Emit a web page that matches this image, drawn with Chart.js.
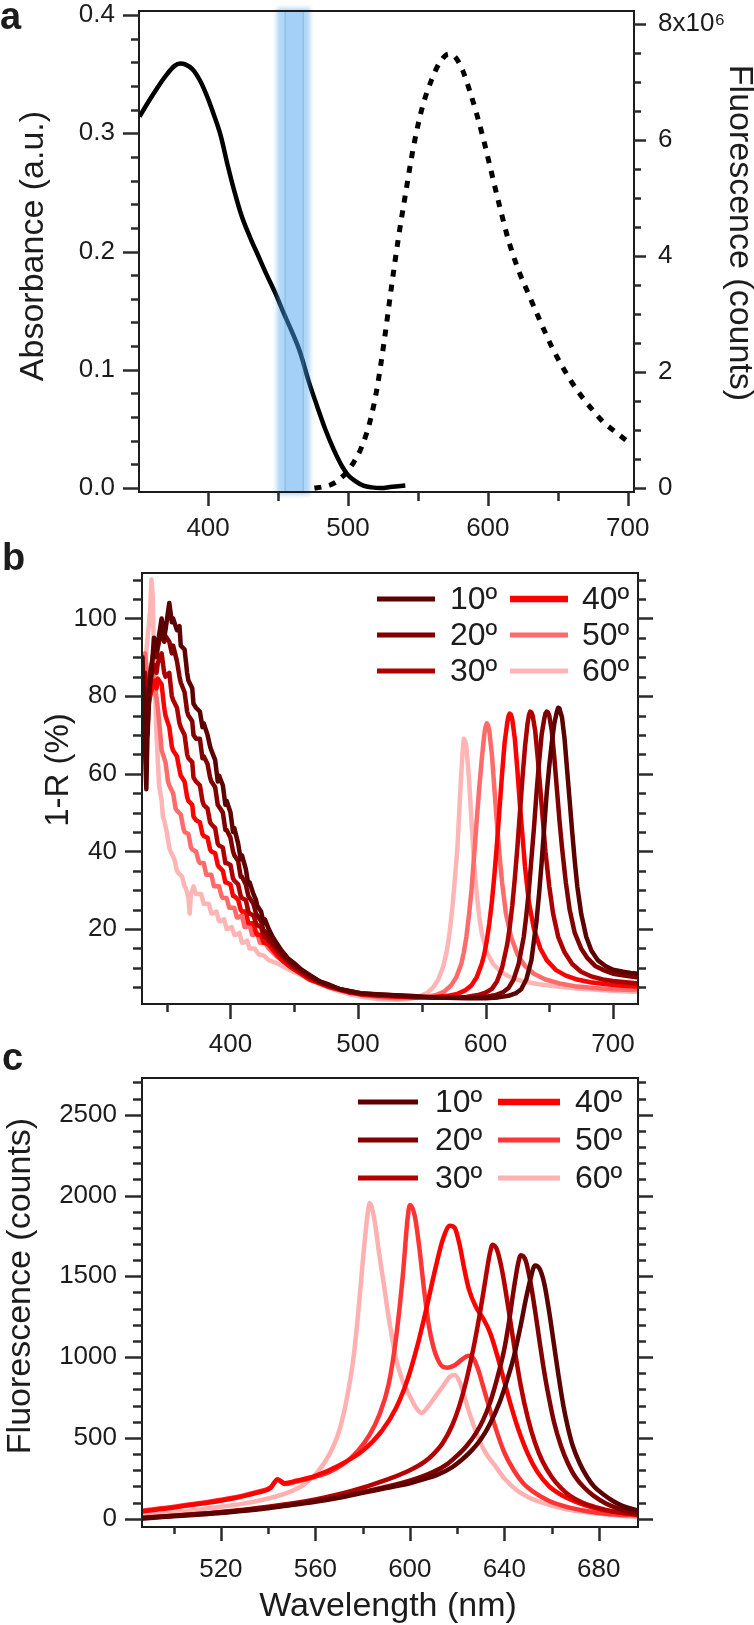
<!DOCTYPE html>
<html>
<head>
<meta charset="utf-8">
<script src="https://cdn.jsdelivr.net/npm/chart.js@4.4.1/dist/chart.umd.min.js"></script>
<style>
  html, body { margin: 0; padding: 0; background: #fff; }
  #page { position: relative; width: 754px; height: 1625px; overflow: hidden; }
  canvas { position: absolute; left: 0; top: 0; }
</style>
</head>
<body>
<div id="page">
  <canvas id="panelA" width="754" height="1625"></canvas>
  <canvas id="panelB" width="754" height="1625"></canvas>
  <canvas id="panelC" width="754" height="1625"></canvas>
</div>
<script>
// ---- panel a : absorbance + fluorescence of the dye ----
const absorbance = [[351,0.314],[357,0.326],[364,0.339],[370,0.349],[376,0.357],[380,0.359],[384,0.358],[389,0.354],[394,0.345],[399,0.332],[404,0.316],[409,0.298],[414,0.273],[419,0.25],[424,0.23],[430,0.212],[436,0.196],[442,0.18],[448,0.165],[454,0.148],[460,0.132],[466,0.114],[472,0.09],[478,0.069],[484,0.049],[490,0.032],[495,0.02],[500,0.011],[505,0.006],[511,0.002],[517,0.0005],[524,0],[530,0.0008],[536,0.0015],[541,0.002]];
const dyeEmission = [[476,0],[482,0.02e6],[488,0.06e6],[494,0.15e6],[500,0.3e6],[505,0.48e6],[510,0.72e6],[516,1.17e6],[521,1.75e6],[526,2.55e6],[531,3.45e6],[536,4.3e6],[541,5.05e6],[547,5.9e6],[553,6.55e6],[560,7.05e6],[566,7.35e6],[572,7.48e6],[577,7.42e6],[582,7.2e6],[587,6.85e6],[592,6.45e6],[597,6.0e6],[602,5.5e6],[608,4.9e6],[615,4.25e6],[622,3.75e6],[629,3.35e6],[637,2.9e6],[646,2.42e6],[655,2.02e6],[664,1.68e6],[673,1.4e6],[682,1.15e6],[691,0.97e6],[700,0.8e6]];
const excitationBand = [449, 473];
const excitationCore = [455, 468];
const absTicks = [0, 0.1, 0.2, 0.3, 0.4];
const absTickLabels = ['0.0', '0.1', '0.2', '0.3', '0.4'];
const emisTicks = [0, 2e6, 4e6, 6e6, 8e6];
const emisTickLabels = ['0', '2', '4', '6', '8x10\u2076'];
const waveTicksA = [400, 500, 600, 700];

// ---- panel b : 1-R for each angle ----
const angleLabels = ['10º', '20º', '30º', '40º', '50º', '60º'];
const refl10 = [[329,85],[330,72],[331,90],[332,78],[333,66],[334,56],[335,72],[336,80],[338,86],[340,95],[342,92],[343,93.5],[346,100],[348,95],[349,97],[352,104],[354,99],[355,100],[358,97],[360,98],[361,93],[364,92],[366,86],[367,84],[370,82],[371,78],[373,77],[376,76],[378,72],[379,73],[382,70],[384,67],[385,66],[388,63.5],[390,58],[391,59.5],[394,57],[396,52],[397,53],[400,50],[402,45],[403,46],[406,42],[408,38],[409,39],[412,35.5],[414,31.5],[415,32],[418,29],[420,27.5],[421,26],[424,24.5],[426,21.5],[427,22.5],[430,20],[433,18],[436,16.5],[440,14.5],[445,12.5],[450,11.2],[456,9.5],[462,8.2],[470,6.5],[478,5.6],[486,4.5],[494,4],[502,3.5],[512,3.2],[525,3],[540,2.8],[555,2.5],[570,2.3],[585,2.2],[600,2.2],[610,2.4],[618,2.8],[624,3.5],[628,4.5],[632,7],[636,12],[640,22],[642,29],[644,37],[646,46],[648,55],[650,62],[652,68],[654,73],[656,76],[657,77],[658,76.8],[660,74.5],[662,69],[664,61],[666,53],[668,45],[670,37.5],[672,31],[675,24],[679,18],[683,14.5],[688,12],[694,10.5],[700,9.5],[708,9],[714,8.7],[720,8.5]];
const refl20 = [[329,80],[330,88],[331,75],[333,82],[335,70],[337,86],[340,92],[342,90],[343,92.5],[346,97],[348,94],[349,95.5],[352,94],[354,91],[355,93],[358,89],[360,85],[361,83.5],[364,81],[366,76],[367,75],[370,73.5],[371,70],[373,69],[376,69],[378,64],[379,64.5],[382,62.5],[384,59],[385,58],[388,56.5],[390,52],[391,51.5],[394,50],[396,45.5],[397,45.5],[400,43.5],[402,40],[403,39],[406,37.5],[408,33.5],[409,33.5],[412,31.5],[414,28.5],[415,28],[418,26.5],[420,24],[421,23.5],[424,22],[426,19.5],[427,19.5],[430,18],[436,15.5],[442,13],[448,11],[455,9.5],[462,8],[470,6.5],[478,5.5],[486,4.5],[494,4],[502,3.5],[515,3.2],[530,2.9],[545,2.6],[560,2.4],[575,2.3],[590,2.3],[600,2.5],[608,3],[614,3.8],[618,4.8],[622,7],[626,11],[630,18],[632,23.5],[634,30],[636,38],[638,46],[640,55],[642,63],[644,70],[646,74],[647,75.5],[648,76],[649,75.8],[650,75],[652,71],[654,64],[656,56],[658,48],[660,41],[663,32],[666,25],[670,19],[675,15],[680,12.5],[686,10.5],[692,9.5],[700,8.5],[710,8],[720,7.5]];
const refl30 = [[329,72],[331,80],[333,86],[335,78],[337,84],[340,88],[342,86],[343,88.5],[346,91],[348,86],[349,85],[352,86],[354,80],[355,79],[358,77],[360,73],[361,72],[364,70],[366,65],[367,64],[370,63],[371,59],[373,58],[376,57],[378,53],[379,52],[382,51],[384,47.5],[385,47],[388,46],[390,42],[391,41.5],[394,41],[396,37],[397,37],[400,36.5],[402,33],[403,32.5],[406,31.5],[408,28.5],[409,28],[412,27.5],[414,24.5],[415,24],[418,23.5],[420,21.5],[421,21],[424,20.5],[426,18],[427,18],[430,17],[436,14.5],[442,12.5],[448,10.5],[455,9],[462,7.5],[470,6.2],[478,5.2],[486,4.5],[494,3.8],[502,3.3],[515,3],[530,2.7],[545,2.5],[560,2.3],[575,2.3],[585,2.5],[594,3],[600,3.6],[605,4.6],[609,6.5],[613,10],[617,16],[619,20.5],[621,26],[623,33],[625,41],[627,50],[629,59],[631,67],[633,73],[634,75],[635,76],[636,75.8],[637,75],[639,71],[641,64],[643,56],[645,48],[647,40],[650,31],[653,24],[657,18],[662,14],[668,11],[675,9],[683,7.8],[692,7],[700,6.6],[710,6.3],[720,6]];
const refl40 = [[329,68],[331,75],[333,82],[335,76],[337,80],[340,84],[342,82],[343,84.5],[346,83],[348,77],[349,75],[352,72],[354,67],[355,66],[358,64.5],[360,61],[361,59.5],[364,58],[366,54],[367,53],[370,52],[371,49],[373,48],[376,47.5],[378,44.5],[379,44],[382,43.5],[384,40.5],[385,40],[388,39.5],[390,36.5],[391,36],[394,35],[396,32],[397,32],[400,31.5],[402,28.5],[403,28.5],[406,27.5],[408,25],[409,24.5],[412,24.5],[414,21.5],[415,21.5],[418,21.5],[420,19],[421,18.5],[424,18.5],[426,16.5],[427,16.5],[430,16],[436,13.5],[442,11.5],[448,10],[455,8.5],[462,7],[470,6],[478,5],[486,4.3],[494,3.6],[502,3.2],[515,2.8],[530,2.6],[545,2.4],[560,2.5],[570,2.8],[578,3.3],[584,4.2],[589,5.5],[593,7.5],[597,11],[599,13.5],[601,17],[603,21.5],[605,27],[607,34],[609,42],[611,51],[613,60],[615,68],[617,73],[618,74.8],[619,75.5],[620,75.2],[621,74],[623,69],[625,61],[627,52],[629,44],[631,36],[634,27],[638,20],[643,15],[648,12],[655,9.5],[663,8],[672,7],[682,6.3],[695,5.8],[708,5.4],[720,5.2]];
const refl50 = [[329,75],[331,85],[333,91],[335,85],[337,80],[339,86],[341,82],[343,77],[345,70],[346,66],[349,63],[351,58],[352,57],[355,55],[357,51],[358,50.5],[361,49.5],[363,46],[364,45],[367,44.5],[369,41],[370,40.5],[373,40],[375,37.5],[376,37],[379,37],[381,34],[382,34],[385,34],[387,31],[388,31],[391,31],[393,28.5],[394,28],[397,28],[399,25.5],[400,25.5],[403,25.5],[405,23],[406,23],[409,23.5],[411,20.5],[412,20.5],[415,21],[417,18.5],[418,18.5],[421,19],[423,16.5],[424,16.5],[427,16.5],[430,15],[436,13],[442,11.5],[448,10],[455,8.6],[462,7.4],[470,6.2],[478,5.2],[486,4.4],[494,3.7],[502,3.1],[515,2.5],[530,2.2],[545,2.3],[555,2.6],[562,3.1],[568,4],[573,5.5],[577,7.5],[581,11],[583,14],[585,18],[587,23.5],[589,30],[591,38.5],[593,47.5],[595,56],[597,63.5],[599,70],[600,72],[601,73],[602,72.5],[603,71],[605,65],[607,56],[609,47],[611,39],[613,32],[616,24],[620,18],[625,13.5],[631,10.5],[638,8.5],[647,7],[658,6],[670,5.3],[685,4.8],[700,4.5],[710,4.4],[720,4.3]];
const refl60 = [[329,70],[331,80],[333,88],[335,95],[337,102],[338,110],[339,106],[340,90],[342,70],[344,57],[346,53],[347,49],[348,48],[350,45],[352,41],[353,40],[356,38],[358,35],[359,34.5],[362,33.5],[364,31],[365,30.5],[367,28],[368,24],[369,29],[371,31],[373,29],[374,29],[377,29],[379,26.5],[380,26.5],[383,26.5],[385,24],[386,24],[389,24.5],[391,22],[392,22],[395,22.5],[397,20],[398,20],[401,20.5],[403,18.5],[404,18.5],[407,19],[409,16.5],[410,16.5],[413,17],[415,15],[416,15],[419,15],[422,13.5],[426,13.2],[430,12],[436,11.3],[442,10.2],[448,9.2],[455,8.2],[462,7],[470,5.8],[478,4.8],[486,3.9],[494,3.2],[502,2.6],[515,2],[530,1.8],[540,2],[548,2.6],[554,3.5],[559,5],[563,7],[567,10.5],[570,15],[572,19.5],[574,25.5],[576,33],[578,41],[580,54],[581,60],[582,65.5],[583,69],[584,68.5],[585,67],[587,59],[589,48],[591,37],[593,29.5],[595,23.5],[597,19],[601,14],[606,11],[612,9],[620,7.5],[630,6.5],[642,5.8],[656,5.2],[672,4.7],[690,4.3],[705,4],[720,3.8]];
const reflTicks = [20, 40, 60, 80, 100];
const waveTicksB = [400, 500, 600, 700];

// ---- panel c : fluorescence for each angle ----
const fluo10 = [[486,0],[490,5],[500,15],[510,25],[520,35],[530,50],[540,65],[550,85],[560,105],[570,130],[580,160],[590,190],[600,220],[606,245],[612,275],[618,320],[622,365],[626,420],[630,490],[634,590],[638,720],[641,850],[644,1000],[647,1200],[649,1350],[651,1480],[653,1567],[655,1545],[657,1450],[659,1280],[661,1080],[663,880],[665,700],[667,560],[669,450],[672,340],[675,260],[678,200],[682,150],[686,110],[690,80],[693,65],[697,50]];
const fluo20 = [[486,5],[500,18],[520,40],[540,70],[560,110],[580,165],[600,235],[610,290],[616,340],[620,390],[624,450],[628,530],[631,610],[634,720],[637,870],[640,1050],[642,1220],[644,1420],[646,1590],[647,1631],[649,1600],[651,1470],[653,1290],[655,1090],[657,900],[659,740],[661,600],[664,450],[667,340],[670,260],[674,190],[678,140],[683,95],[688,65],[692,45],[697,30]];
const fluo30 = [[486,5],[500,18],[520,42],[540,75],[560,120],[575,170],[590,240],[600,300],[606,350],[610,400],[614,470],[618,580],[621,700],[624,860],[627,1060],[630,1300],[632,1480],[634,1650],[635,1695],[637,1660],[639,1540],[641,1370],[643,1180],[645,990],[647,820],[650,620],[653,470],[656,360],[660,260],[664,190],[668,140],[673,100],[679,70],[686,45],[697,25]];
const fluo40 = [[486,45],[495,60],[505,80],[515,100],[525,125],[535,160],[541,190],[544,245],[547,220],[552,235],[560,265],[570,330],[580,420],[588,540],[594,680],[599,860],[603,1060],[607,1300],[611,1560],[614,1730],[617,1813],[619,1800],[621,1700],[623,1550],[625,1420],[628,1310],[631,1240],[634,1150],[637,1010],[640,850],[643,690],[646,550],[650,400],[654,290],[659,200],[665,140],[672,95],[680,60],[688,40],[697,25]];
const fluo50 = [[486,50],[495,65],[505,85],[515,105],[525,130],[535,165],[541,195],[544,240],[547,215],[552,230],[560,260],[566,290],[572,340],[578,420],[583,520],[587,640],[591,830],[594,1100],[597,1500],[599,1850],[600,1942],[602,1880],[604,1680],[606,1420],[608,1200],[610,1060],[612,980],[614,940],[616,935],[619,950],[622,985],[625,1008],[627,990],[629,920],[631,820],[634,670],[637,530],[640,410],[644,300],[648,220],[653,160],[659,110],[666,75],[674,50],[684,30],[697,20]];
const fluo60 = [[486,20],[500,40],[515,65],[530,95],[540,125],[548,160],[555,210],[561,290],[566,400],[570,540],[573,720],[576,980],[578,1250],[580,1580],[582,1870],[583,1953],[585,1850],[587,1640],[589,1450],[591,1250],[594,1000],[597,850],[600,760],[603,680],[605,655],[608,700],[611,760],[614,820],[617,880],[619,890],[621,850],[623,760],[626,620],[629,500],[632,410],[636,330],[640,250],[645,180],[650,135],[656,100],[663,70],[670,50],[680,32],[688,20],[697,12]];
const fluoTicks = [0, 500, 1000, 1500, 2000, 2500];
const waveTicksC = [520, 560, 600, 640, 680];

const reflColors = ['#5c0000', '#800000', '#ad0000', '#ff0000', '#ff6a6a', '#ffb5b5'];
const fluoColors = ['#5c0000', '#800000', '#b40000', '#ff0000', '#ff3535', '#ffb0b0'];

const FAMILY = "'Liberation Sans', Arial, Helvetica, sans-serif";
const INK = '#1c1c1c';

function steps(from, to, step, skip) {
  const out = [];
  for (let v = from; v <= to + step / 1e3; v += step) {
    const r = +v.toFixed(6);
    if (!skip || !skip.some(s => Math.abs(s - r) < step / 1e3)) out.push(r);
  }
  return out;
}
const pts = arr => arr.map(p => ({ x: p[0], y: p[1] }));

// frame, tick marks, titles, legend and the excitation band
const panelDecor = {
  id: 'panelDecor',
  afterDatasetsDraw(chart, args, o) {
    const ctx = chart.ctx, a = chart.chartArea;
    ctx.save();
    if (o.band) {
      const xs = chart.scales.x;
      const b0 = xs.getPixelForValue(o.band[0]), b1 = xs.getPixelForValue(o.band[1]);
      const c0 = xs.getPixelForValue(o.core[0]), c1 = xs.getPixelForValue(o.core[1]);
      ctx.filter = 'blur(2px)';
      ctx.fillStyle = 'rgba(70,160,235,0.42)';
      ctx.fillRect(b0, a.top - 3, b1 - b0, a.bottom - a.top + 6);
      ctx.filter = 'none';
      ctx.fillStyle = 'rgba(70,160,235,0.12)';
      ctx.fillRect(c0, a.top, c1 - c0, a.bottom - a.top);
      ctx.strokeStyle = 'rgba(60,130,200,0.35)';
      ctx.lineWidth = 1;
      ctx.strokeRect(c0, a.top, c1 - c0, a.bottom - a.top);
    }
    ctx.strokeStyle = INK;
    ctx.lineWidth = 2;
    ctx.strokeRect(a.left, a.top, a.right - a.left, a.bottom - a.top);

    ctx.strokeStyle = '#2b2b2b';
    ctx.lineWidth = 2.5;
    o.marks.forEach(m => {
      const s = chart.scales[m.scale];
      [[m.major, m.majorLen], [m.minor, m.minorLen]].forEach(([vals, len]) => {
        vals.forEach(v => {
          const p = Math.round(s.getPixelForValue(v)) + 0.5;
          ctx.beginPath();
          if (m.side === 'bottom') { ctx.moveTo(p, a.bottom); ctx.lineTo(p, a.bottom + len); }
          else if (m.side === 'left') { ctx.moveTo(a.left, p); ctx.lineTo(a.left - len, p); }
          else { ctx.moveTo(a.right, p); ctx.lineTo(a.right + len, p); }
          ctx.stroke();
        });
      });
    });

    ctx.fillStyle = INK;
    ctx.textAlign = 'center';
    ctx.textBaseline = 'middle';
    o.titles.forEach(t => {
      ctx.save();
      ctx.translate(t.x, t.y);
      ctx.rotate(t.rot || 0);
      ctx.font = t.size + 'px ' + FAMILY;
      ctx.fillText(t.text, 0, 0);
      ctx.restore();
    });
    ctx.font = 'bold 38px ' + FAMILY;
    ctx.textAlign = 'left';
    ctx.textBaseline = 'alphabetic';
    ctx.fillText(o.letter.text, o.letter.x, o.letter.y);

    if (o.legend) {
      const L = o.legend;
      ctx.font = '32px ' + FAMILY;
      ctx.textBaseline = 'middle';
      chart.data.datasets.forEach((ds, i) => {
        const col = L.cols[Math.floor(i / L.rows.length)];
        const y = L.rows[i % L.rows.length];
        ctx.strokeStyle = ds.borderColor;
        ctx.lineWidth = i === 3 ? 6.5 : 5;
        ctx.beginPath();
        ctx.moveTo(col.from, y);
        ctx.lineTo(col.to, y);
        ctx.stroke();
        ctx.fillStyle = INK;
        ctx.fillText(ds.label, col.text, y + 1);
      });
    }
    ctx.restore();
  }
};

function fixedSize(size, horizontal) {
  return scale => {
    if (horizontal) scale.height = size; else scale.width = size;
    scale.paddingTop = 0; scale.paddingBottom = 0;
    scale.paddingLeft = 0; scale.paddingRight = 0;
  };
}
function tickFont() { return { family: FAMILY, size: 26 }; }

function waveAxis(min, max, ticks, pad, height) {
  return {
    type: 'linear', position: 'bottom', min: min, max: max,
    grid: { display: false, drawTicks: false }, border: { display: false },
    afterBuildTicks: s => { s.ticks = ticks.map(v => ({ value: v })); },
    afterFit: fixedSize(height, true),
    ticks: { autoSkip: false, maxRotation: 0, padding: pad, color: INK, font: tickFont(),
             callback: v => String(v) }
  };
}
function valueAxis(pos, min, max, ticks, labels, pad, width) {
  return {
    type: 'linear', position: pos, min: min, max: max,
    grid: { display: false, drawTicks: false }, border: { display: false },
    afterBuildTicks: s => { s.ticks = ticks.map(v => ({ value: v })); },
    afterFit: fixedSize(width, false),
    ticks: { autoSkip: false, padding: pad, color: INK, font: tickFont(),
             callback: v => labels[ticks.findIndex(t => Math.abs(t - v) < 1e-9)] }
  };
}
function common(padding, decor) {
  return {
    responsive: false, animation: false, events: [],
    layout: { padding: padding },
    plugins: { legend: { display: false }, tooltip: { enabled: false }, panelDecor: decor },
    elements: { point: { radius: 0 }, line: { borderCapStyle: 'butt', borderJoinStyle: 'round' } }
  };
}
function lineSet(label, data, color, width, extra) {
  return Object.assign({ label: label, data: pts(data), borderColor: color, borderWidth: width,
    fill: false, cubicInterpolationMode: 'monotone', clip: 1, yAxisID: 'y' }, extra || {});
}

// ---------- panel a ----------
const optsA = common({ top: 11, left: 0, right: 0, bottom: 0 }, {
  band: excitationBand, core: excitationCore,
  marks: [
    { scale: 'x', side: 'bottom', major: waveTicksA, majorLen: 14, minor: [450, 550, 650], minorLen: 9 },
    { scale: 'y', side: 'left', major: absTicks, majorLen: 16, minor: steps(0, 0.4, 0.02, absTicks), minorLen: 8 },
    { scale: 'y2', side: 'right', major: emisTicks, majorLen: 12, minor: steps(0, 8e6, 0.5e6, emisTicks), minorLen: 7 }
  ],
  titles: [
    { text: 'Absorbance (a.u.)', x: 34, y: 246, rot: -Math.PI / 2, size: 34 },
    { text: 'Fluorescence (counts)', x: 739, y: 233, rot: Math.PI / 2, size: 34 }
  ],
  letter: { text: 'a', x: 0, y: 29 }
});
optsA.scales = {
  x: waveAxis(350.6, 704.5, waveTicksA, 21, 1625 - 492),
  y: valueAxis('left', -0.0034, 0.4034, absTicks, absTickLabels, 24, 139),
  y2: valueAxis('right', -0.069e6, 8.224e6, emisTicks, emisTickLabels, 24, 120)
};
new Chart(document.getElementById('panelA'), {
  type: 'line',
  data: { datasets: [
    lineSet('Absorbance', absorbance, '#000000', 4.5),
    lineSet('Fluorescence', dyeEmission, '#000000', 5, { yAxisID: 'y2', borderDash: [7, 8] })
  ] },
  options: optsA,
  plugins: [panelDecor]
});

// ---------- panel b ----------
const reflSeries = [refl10, refl20, refl30, refl40, refl50, refl60];
const optsB = common({ top: 573, left: 0, right: 116, bottom: 0 }, {
  marks: [
    { scale: 'x', side: 'bottom', major: waveTicksB, majorLen: 15, minor: [350, 450, 550, 650], minorLen: 8 },
    { scale: 'y', side: 'left', major: reflTicks, majorLen: 17, minor: steps(5, 110, 5, reflTicks), minorLen: 9 },
    { scale: 'y', side: 'right', major: reflTicks, majorLen: 15, minor: steps(5, 110, 5, reflTicks), minorLen: 8 }
  ],
  titles: [{ text: '1-R (%)', x: 59, y: 770, rot: -Math.PI / 2, size: 33 }],
  letter: { text: 'b', x: 2, y: 570 },
  legend: { rows: [599, 635, 671], cols: [{ from: 377, to: 435, text: 450 }, { from: 510, to: 568, text: 582 }] }
});
optsB.scales = {
  x: waveAxis(330.6, 719.6, waveTicksB, 25, 1625 - 1004),
  y: valueAxis('left', 0.7, 111.7, reflTicks, reflTicks.map(String), 25, 142)
};
new Chart(document.getElementById('panelB'), {
  type: 'line',
  data: { datasets: reflSeries.map((s, i) => lineSet(angleLabels[i], s, reflColors[i], 4.5,
    { cubicInterpolationMode: 'default', tension: 0 })) },
  options: optsB,
  plugins: [panelDecor]
});

// ---------- panel c ----------
const fluoSeries = [fluo10, fluo20, fluo30, fluo40, fluo50, fluo60];
const optsC = common({ top: 1078, left: 0, right: 116, bottom: 0 }, {
  marks: [
    { scale: 'x', side: 'bottom', major: waveTicksC, majorLen: 14, minor: [500, 540, 580, 620, 660], minorLen: 7 },
    { scale: 'y', side: 'left', major: fluoTicks, majorLen: 17, minor: steps(0, 2700, 100, fluoTicks), minorLen: 9 },
    { scale: 'y', side: 'right', major: fluoTicks, majorLen: 15, minor: steps(0, 2700, 100, fluoTicks), minorLen: 8 }
  ],
  titles: [
    { text: 'Fluorescence (counts)', x: 21, y: 1286, rot: -Math.PI / 2, size: 34 },
    { text: 'Wavelength (nm)', x: 388, y: 1607, rot: 0, size: 34 }
  ],
  letter: { text: 'c', x: 2, y: 1070 },
  legend: { rows: [1102, 1140, 1178], cols: [{ from: 358, to: 418, text: 435 }, { from: 498, to: 560, text: 575 }] }
});
optsC.scales = {
  x: waveAxis(486.6, 696.6, waveTicksC, 27, 1625 - 1527),
  y: valueAxis('left', -51, 2727, fluoTicks, fluoTicks.map(String), 25, 142)
};
new Chart(document.getElementById('panelC'), {
  type: 'line',
  data: { datasets: fluoSeries.map((s, i) => lineSet(angleLabels[i], s, fluoColors[i], 4.5)) },
  options: optsC,
  plugins: [panelDecor]
});
</script>
</body>
</html>
